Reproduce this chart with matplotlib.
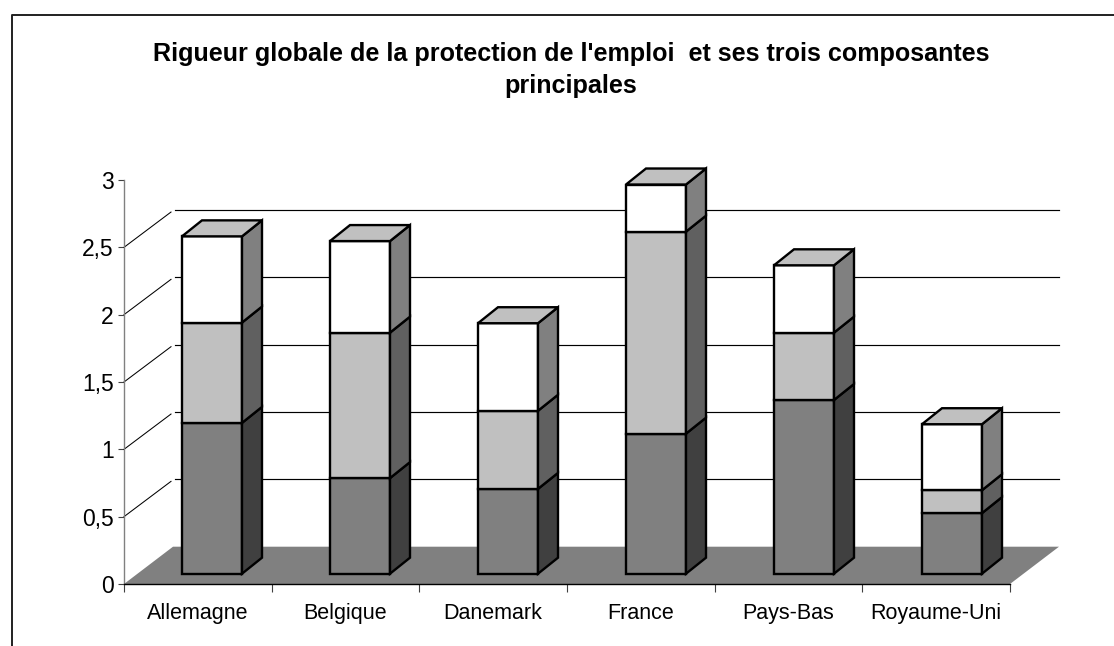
import numpy as np
import matplotlib.pyplot as plt

plt.rcParams['font.family'] = ['Liberation Sans', 'DejaVu Sans']

# Valeurs
pays = ['Allemagne', 'Belgique', 'Danemark', 'France', 'Pays-Bas', 'Royaume-Uni']
bas = [1.12, 0.71, 0.63, 1.04, 1.29, 0.45]
milieu = [0.745, 1.08, 0.58, 1.50, 0.50, 0.17]
haut = [0.64, 0.68, 0.65, 0.35, 0.50, 0.49]
graduations = [0, 0.5, 1, 1.5, 2, 2.5, 3]
etiquettes_y = ['0', '0,5', '1', '1,5', '2', '2,5', '3']
titre = "Rigueur globale de la protection de l'emploi  et ses trois composantes\nprincipales"

couleurs_face = ['#808080', '#C0C0C0', '#FFFFFF']
couleurs_cote = ['#404040', '#606060', '#808080']

W, H = 1114, 646
fig = plt.figure(figsize=(W / 100, H / 100), dpi=100)
ax = fig.add_axes([124 / W, 1 - 584 / H, (1010 - 124) / W, (584 - 180) / H])
ax.set_xlim(0, 6)
ax.set_ylim(0, 3)

# Profondeur du plancher et des barres, en unites de donnees
px_x = 6 / (1010 - 124)
px_y = 3 / (584 - 180)
prof_x, prof_y = 49 * px_x, 37.3 * px_y
barre_x, barre_y = 20 * px_x, 16 * px_y
socle = 10.3 * px_y
largeur = 60 * px_x
decalage = 58 * px_x

# Plancher
ax.fill([0, 6, 6 + prof_x, prof_x], [0, 0, prof_y, prof_y], color='#808080', lw=0, zorder=1, clip_on=False)

# Grille du fond et diagonales
for v in graduations[1:-1]:
    ax.plot([0, prof_x - 2 * px_x], [v, v + prof_y - 2 * px_y], color='black', lw=0.75, zorder=2, clip_on=False)
    ax.plot([prof_x + 2 * px_x, 6 + prof_x], [v + prof_y, v + prof_y], color='black', lw=0.85, zorder=2, clip_on=False)

# Barres empilees
pas = 148 * px_x
for i in range(len(pays)):
    x0 = decalage + i * pas
    x1 = x0 + largeur
    y = socle
    for segment, face, cote in zip((bas, milieu, haut), couleurs_face, couleurs_cote):
        h = segment[i]
        ax.bar(x0, h, largeur, bottom=y, align='edge', color=face, edgecolor='black', linewidth=1.7,
               zorder=3 + i, clip_on=False)
        ax.fill([x1, x1 + barre_x, x1 + barre_x, x1], [y, y + barre_y, y + h + barre_y, y + h],
                facecolor=cote, edgecolor='black', linewidth=1.7, joinstyle='miter', zorder=3 + i, clip_on=False)
        y += h
    ax.fill([x0, x1, x1 + barre_x, x0 + barre_x], [y, y, y + barre_y, y + barre_y],
            facecolor='#C0C0C0', edgecolor='black', linewidth=1.7, joinstyle='miter', zorder=3 + i, clip_on=False)

# Axes
for cote in ['top', 'right']:
    ax.spines[cote].set_visible(False)
ax.spines['left'].set_color('#808080')
ax.spines['left'].set_linewidth(1.0)
ax.spines['bottom'].set_color('black')
ax.spines['bottom'].set_linewidth(1.0)
ax.spines['left'].set_zorder(2)
ax.spines['bottom'].set_zorder(2)
ax.patch.set_visible(False)

ax.set_yticks(graduations)
ax.set_yticklabels(etiquettes_y, fontsize=16.5)
ax.tick_params(axis='y', length=4, width=0.8, color='#404040', pad=3.5)
ax.set_xticks(np.arange(7))
ax.set_xticklabels([])
ax.tick_params(axis='x', which='major', length=6, width=0.8, color='#404040')
ax.set_xticks(np.arange(6) + 0.5, minor=True)
ax.set_xticklabels(pays, minor=True, fontsize=15.5)
ax.tick_params(axis='x', which='minor', length=0, pad=14)

# Titre et cadre (haut et gauche seulement)
fig.text(571 / W, 1 - 42 / H, titre, ha='center', va='top', fontsize=18.05, fontweight='bold', linespacing=1.42)
fig.add_artist(plt.Line2D([12 / W, 12 / W, 1], [0, 1 - 14.7 / H, 1 - 14.7 / H], color='#202020', lw=1.4))

plt.savefig('out.png', dpi=100)
plt.close()
